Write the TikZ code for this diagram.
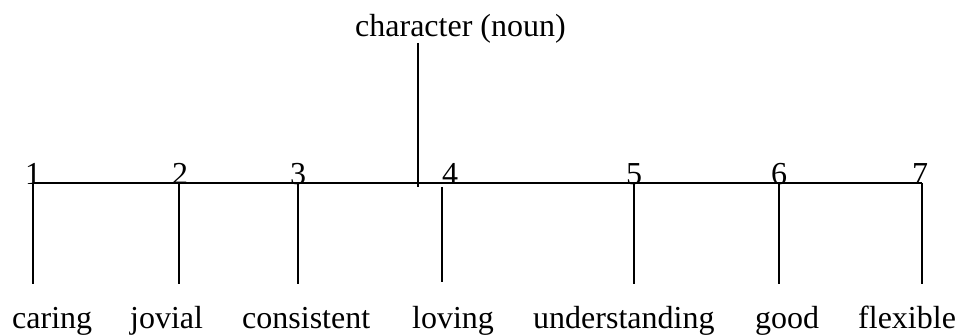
\documentclass[tikz,border=0pt]{standalone}
\usepackage{fontspec}
\setmainfont{Liberation Serif}
\begin{document}
\begin{tikzpicture}[x=1pt,y=-1pt,
  txt/.style={inner sep=0pt,font=\fontsize{32}{38}\selectfont},
  num/.style={txt,anchor=base},
  lbl/.style={txt,anchor=base west},
  branch/.style={line width=1.6pt,black},
  bar/.style={line width=2pt,black}]
\useasboundingbox (0,0) rectangle (958,336);
% title
\node[lbl] (title) at (355,37) {character (noun)};
\coordinate (stemtop) at (418,43);
\coordinate (stembot) at (418,187);
\draw[branch] (stemtop) -- (stembot);
% horizontal bar
\coordinate (barL) at (33,183);
\coordinate (barR) at (922,183);
\draw[bar] (barL) -- (barR);
% numbers
\node[num] (n1) at (33,185) {1};
\node[num] (n2) at (180,185) {2};
\node[num] (n3) at (298,185) {3};
\node[num] (n4) at (450,185) {4};
\node[num] (n5) at (634,185) {5};
\node[num] (n6) at (779,185) {6};
\node[num] (n7) at (920,185) {7};
% branch points
\coordinate (t1) at (33,183);  \coordinate (b1) at (33,284);
\coordinate (t2) at (179,183); \coordinate (b2) at (179,284);
\coordinate (t3) at (298,183); \coordinate (b3) at (298,284);
\coordinate (t4) at (442,187); \coordinate (b4) at (442,282);
\coordinate (t5) at (634,183); \coordinate (b5) at (634,284);
\coordinate (t6) at (779,183); \coordinate (b6) at (779,284);
\coordinate (t7) at (922,183); \coordinate (b7) at (922,284);
\foreach \i in {1,...,7} {\draw[branch] (t\i) -- (b\i);}
% labels
\node[lbl] (l1) at (12,328.5) {caring};
\node[lbl] (l2) at (130,328.5) {jovial};
\node[lbl] (l3) at (242,328.5) {consistent};
\node[lbl] (l4) at (412,328.5) {loving};
\node[lbl] (l5) at (533,328.5) {understanding};
\node[lbl] (l6) at (755,328.5) {good};
\node[lbl] (l7) at (858,328.5) {flexible};
\end{tikzpicture}
\end{document}
